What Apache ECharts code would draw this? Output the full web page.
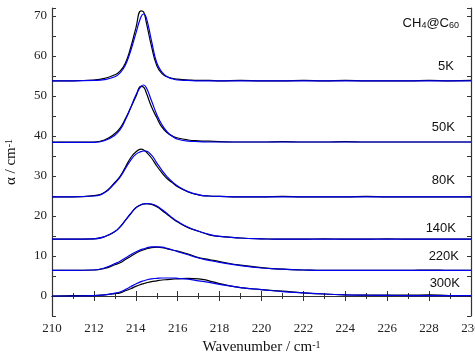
<!DOCTYPE html>
<html><head><meta charset="utf-8">
<script src="https://cdn.jsdelivr.net/npm/echarts@6/dist/echarts.min.js"></script>
<style>html,body{margin:0;padding:0;background:#fff}#c{width:475px;height:357px}</style>
</head><body><div id="c"></div>
<script>
const wavenumber = [210,211,212,212.5,213,213.25,213.5,213.75,214,214.25,214.375,214.5,214.75,215,215.25,215.5,215.75,216,216.5,217,217.5,218,219,220,221,222,223,224,225,226,227,228,229,230];

const meas5K  = [53.8,53.8,54.0,54.4,55.3,56.2,58.2,62.0,66.9,71.3,71.0,68.4,62.4,57.6,55.6,54.8,54.4,54.2,54.0,53.9,53.9,53.8,53.9,53.8,53.8,53.9,53.8,53.9,53.8,53.8,53.8,53.9,53.8,53.9];
const fit5K   = [53.8,53.8,53.9,54.1,54.8,55.8,57.7,61.2,65.6,69.8,70.5,69.6,63.8,58.3,56.0,54.8,54.3,54.0,53.9,53.8,53.8,53.8,53.8,53.8,53.8,53.8,53.8,53.8,53.8,53.8,53.8,53.8,53.8,53.8];
const meas50K = [38.5,38.5,38.5,39.0,40.6,42.0,44.3,47.0,49.8,52.4,52.2,50.8,47.3,44.6,42.2,40.8,40.0,39.5,39.0,38.8,38.7,38.6,38.5,38.5,38.6,38.5,38.5,38.6,38.5,38.5,38.5,38.5,38.5,38.5];
const fit50K  = [38.4,38.4,38.4,38.8,40.2,41.6,44.0,47.0,50.2,52.4,52.75,52.1,48.8,45.4,42.8,41.0,39.9,39.2,38.7,38.6,38.5,38.5,38.5,38.5,38.5,38.5,38.5,38.5,38.5,38.5,38.5,38.5,38.5,38.5];
const meas80K = [24.8,24.8,25.1,25.9,28.4,29.9,32.2,34.5,36.0,36.7,36.5,36.0,34.5,32.5,30.8,29.3,28.3,27.3,26.0,25.3,25.0,24.9,24.8,24.8,24.9,24.8,24.8,24.8,24.9,24.8,24.8,24.8,24.8,24.8];
const fit80K  = [24.8,24.8,25.0,25.8,28.2,29.7,31.8,33.9,35.4,36.1,36.25,36.2,35.2,33.3,31.4,29.8,28.5,27.5,26.1,25.3,25.0,24.9,24.8,24.8,24.8,24.8,24.8,24.8,24.8,24.8,24.8,24.8,24.8,24.8];
const meas140K= [14.2,14.2,14.3,14.8,16.1,17.3,18.9,20.5,22.1,22.8,23.0,23.1,22.9,22.3,21.4,20.4,19.4,18.5,17.1,16.2,15.3,14.9,14.5,14.3,14.2,14.2,14.3,14.2,14.2,14.3,14.2,14.2,14.2,14.2];
const fit140K = [14.2,14.2,14.3,14.8,16.1,17.3,18.9,20.6,22.0,22.8,23.0,23.1,23.0,22.5,21.6,20.6,19.5,18.6,17.2,16.2,15.4,14.9,14.5,14.3,14.2,14.2,14.2,14.2,14.2,14.2,14.2,14.2,14.2,14.2];
const meas220K= [6.4,6.4,6.5,6.9,7.8,8.3,9.1,9.9,10.7,11.3,11.55,11.8,12.1,12.2,12.1,11.8,11.5,11.2,10.5,9.6,9.1,8.6,7.7,7.1,6.7,6.5,6.4,6.4,6.4,6.4,6.4,6.5,6.4,6.4];
const fit220K = [6.4,6.4,6.5,7.0,8.1,8.7,9.5,10.3,11.0,11.6,11.8,12.0,12.3,12.3,12.2,11.9,11.5,11.1,10.3,9.5,8.9,8.4,7.6,7.0,6.7,6.5,6.4,6.4,6.4,6.4,6.4,6.4,6.4,6.4];
const meas300K= [0.0,0.1,0.1,0.3,0.6,0.8,1.3,1.8,2.4,2.9,3.1,3.3,3.6,3.8,4.0,4.1,4.2,4.3,4.4,4.3,3.8,3.1,2.1,1.6,1.2,0.8,0.5,0.3,0.2,0.2,0.2,0.3,0.1,0.1];
const fit300K = [0.0,0.0,0.1,0.3,0.7,1.0,1.6,2.3,3.0,3.6,3.8,4.0,4.3,4.4,4.5,4.5,4.5,4.4,4.2,3.8,3.4,2.9,2.1,1.6,1.1,0.8,0.5,0.3,0.2,0.15,0.1,0.1,0.1,0.1];

const temperatureLabels = ['5K','50K','80K','140K','220K','300K'];
const measured = [meas5K, meas50K, meas80K, meas140K, meas220K, meas300K];
const fitted = [fit5K, fit50K, fit80K, fit140K, fit220K, fit300K];
const xTicks = {min: 210, max: 230, interval: 2};
const yTicks = {min: -5, max: 72, interval: 5, labelStep: 10};

const pairs = arr => wavenumber.map((x, i) => [x, arr[i]]);
const series = [];
measured.forEach((arr, k) => {
  series.push({type: 'line', name: temperatureLabels[k] + ' data', data: pairs(arr), showSymbol: false,
    smooth: 0.5, lineStyle: {color: '#000', width: 1.2}, z: 2, silent: true});
});
fitted.forEach((arr, k) => {
  series.push({type: 'line', name: temperatureLabels[k] + ' fit', data: pairs(arr), showSymbol: false,
    smooth: 0.5, lineStyle: {color: '#0000ee', width: 1.2}, z: 3, silent: true});
});

const axisCol = '#333';
const serif = '"Liberation Serif", "Times New Roman", serif';
const sans = '"Liberation Sans", Arial, sans-serif';
const baseX = {type: 'value', min: xTicks.min, max: xTicks.max, interval: xTicks.interval,
  axisLine: {show: true, lineStyle: {color: axisCol, width: 1.2}},
  axisTick: {show: true, inside: true, length: 5, lineStyle: {color: axisCol, width: 1}},
  minorTick: {show: true, splitNumber: 2, length: 3, lineStyle: {color: axisCol, width: 1}},
  splitLine: {show: false}, minorSplitLine: {show: false}};
const baseY = {type: 'value', min: yTicks.min, max: yTicks.max, interval: yTicks.interval,
  axisLine: {show: true, lineStyle: {color: axisCol, width: 1.2}},
  axisTick: {show: true, inside: true, length: 4, lineStyle: {color: axisCol, width: 1}},
  splitLine: {show: false}};
const nameRich = {
  a: {fontFamily: serif, fontSize: 15, color: '#111', lineHeight: 18, verticalAlign: 'top'},
  p: {fontFamily: serif, fontSize: 10, color: '#111', lineHeight: 8, verticalAlign: 'top'}};

const chart = echarts.init(document.getElementById('c'), null, {renderer: 'canvas'});
chart.setOption({
  backgroundColor: '#fff',
  animation: false,
  grid: {left: 52, right: 4, top: 8, bottom: 41, containLabel: false, outerBoundsMode: 'none'},
  xAxis: [
    Object.assign({}, baseX, {position: 'bottom',
      axisLabel: {show: true, fontFamily: serif, fontSize: 13, color: '#222', margin: 6},
      name: '{a|Wavenumber / cm}{p|-1}', nameLocation: 'middle', nameGap: 24,
      nameTextStyle: {rich: nameRich}}),
    Object.assign({}, baseX, {position: 'top', axisLabel: {show: false}})
  ],
  yAxis: [
    Object.assign({}, baseY, {position: 'left',
      axisLabel: {show: true, fontFamily: serif, fontSize: 13, color: '#222', margin: 5,
        formatter: v => (v % yTicks.labelStep === 0 ? String(v) : '')},
      name: '{a|α / cm}{p|-1}', nameLocation: 'middle', nameGap: 30, nameRotate: 90,
      nameTextStyle: {rich: nameRich}}),
    Object.assign({}, baseY, {position: 'right', axisLabel: {show: false}})
  ],
  series: series,
  graphic: [
    {type: 'text', right: 16, top: 17, style: {
      text: '{a|CH}{s|4}{a|@C}{s|60}', fill: '#111',
      rich: {a: {fontFamily: sans, fontSize: 13, lineHeight: 16, verticalAlign: 'bottom', fill: '#111'},
             s: {fontFamily: sans, fontSize: 9, lineHeight: 5, verticalAlign: 'bottom', fill: '#111'}}}},
    ...temperatureLabels.map((t, k) => ({type: 'text', x: [454, 455, 455, 456, 459, 460][k], y: [66, 127, 180, 228, 256, 283][k],
      style: {text: t, fill: '#111', font: '13px ' + sans, textAlign: 'right', textVerticalAlign: 'middle'}}))
  ]
});
</script></body></html>
